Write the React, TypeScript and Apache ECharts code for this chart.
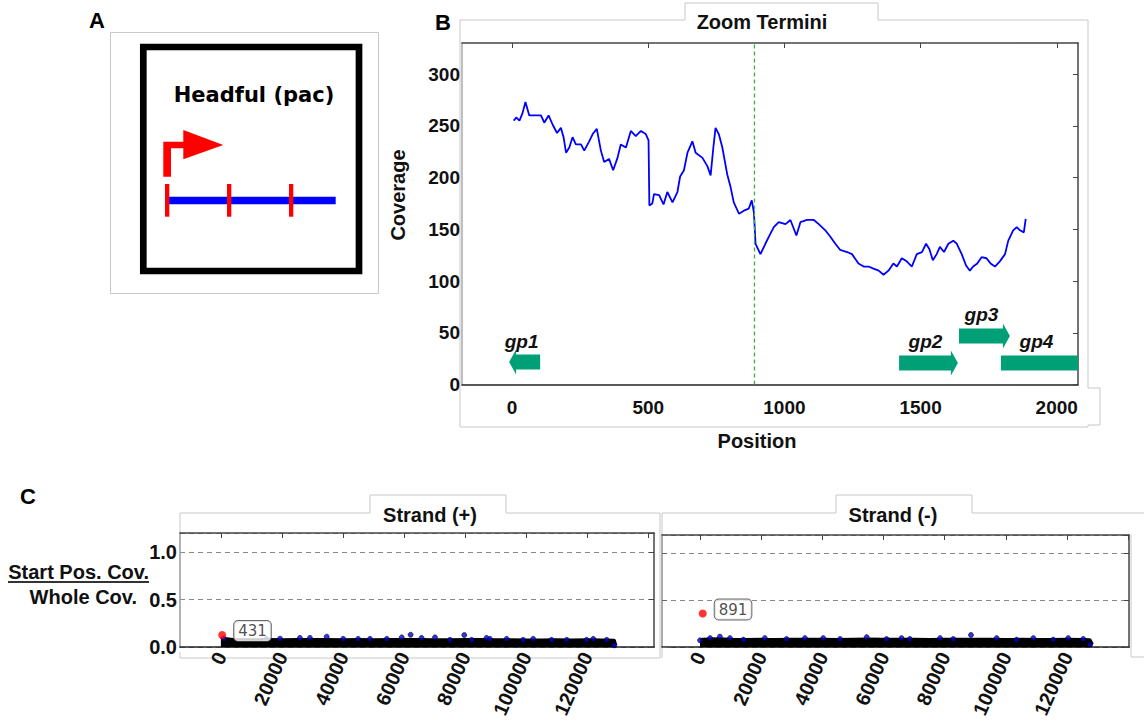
import React, { useEffect, useRef } from 'react';
import * as echarts from 'echarts';

// ---------- Panel B data: coverage near the termini ----------
const coveragePos = [6, 15, 27, 38, 49, 63, 82, 106, 118, 134, 149, 165, 179, 189, 198, 210, 222, 234, 253, 265, 283, 296, 311, 326, 338, 356, 371, 387, 399, 418, 436, 454, 473, 491, 501, 504, 515, 521, 540, 556, 570, 589, 607, 617, 631, 644, 662, 674, 699, 717, 729, 739, 747, 759, 772, 790, 802, 814, 833, 851, 869, 880, 888, 894, 912, 930, 949, 961, 979, 1004, 1022, 1044, 1059, 1083, 1108, 1126, 1150, 1168, 1187, 1205, 1230, 1248, 1272, 1291, 1309, 1327, 1346, 1364, 1382, 1400, 1413, 1431, 1449, 1468, 1486, 1505, 1520, 1532, 1545, 1559, 1571, 1586, 1602, 1620, 1633, 1651, 1667, 1681, 1693, 1708, 1724, 1742, 1757, 1773, 1791, 1810, 1822, 1840, 1853, 1865, 1879, 1886];
const coverageVal = [255, 258, 255, 262, 273, 260, 260, 260, 253, 260, 251, 243, 248, 239, 224, 229, 239, 232, 232, 226, 235, 242, 247, 226, 215, 218, 207, 219, 232, 229, 245, 240, 245, 242, 236, 173, 175, 184, 183, 174, 186, 176, 186, 201, 207, 224, 235, 224, 219, 211, 202, 229, 248, 242, 229, 203, 191, 176, 165, 168, 170, 178, 166, 136, 126, 136, 146, 152, 157, 155, 159, 144, 157, 159, 159, 155, 149, 143, 136, 130, 128, 126, 117, 114, 114, 112, 110, 106, 110, 117, 114, 122, 119, 114, 126, 128, 136, 131, 120, 126, 133, 128, 136, 139, 136, 126, 115, 110, 114, 117, 123, 122, 117, 114, 119, 126, 139, 149, 152, 149, 147, 160];
const terminusPos = 891;

const geneNames = ['gp1', 'gp2', 'gp3', 'gp4'];
const geneStart = [-11, 1421, 1641, 1795];
const geneEnd = [103, 1637, 1828, 2250];
const geneLevel = [21.7, 20.8, 46.9, 20.8];
const geneDir = [-1, 1, 1, 1];

const zoomXTicks = [0, 500, 1000, 1500, 2000];
const zoomYTicks = [0, 50, 100, 150, 200, 250, 300];

// ---------- Panel C data: start position coverage / whole coverage ----------
const plusBandPos = [0, 500, 2000, 4000, 8000, 12000, 16000, 20000, 25000, 30000, 35000, 40000, 45000, 50000, 55000, 60000, 65000, 70000, 75000, 80000, 85000, 90000, 95000, 100000, 105000, 110000, 115000, 120000, 125000, 129000, 129500];
const plusBandTop = [0.085, 0.095, 0.09, 0.082, 0.078, 0.078, 0.08, 0.078, 0.08, 0.082, 0.08, 0.078, 0.08, 0.078, 0.08, 0.082, 0.08, 0.078, 0.078, 0.082, 0.08, 0.078, 0.078, 0.076, 0.076, 0.078, 0.076, 0.078, 0.076, 0.074, 0.02];
const plusDotPos = [1000, 15000, 19400, 25900, 29200, 34700, 40100, 45000, 48900, 54400, 59300, 62200, 65800, 70200, 75100, 79800, 82200, 87100, 88200, 93700, 99100, 102400, 108400, 113400, 119900, 122100, 126500, 129000];
const plusDotVal = [0.09, 0.088, 0.09, 0.098, 0.098, 0.111, 0.088, 0.088, 0.088, 0.088, 0.104, 0.131, 0.098, 0.104, 0.078, 0.128, 0.078, 0.098, 0.088, 0.088, 0.078, 0.088, 0.078, 0.078, 0.078, 0.088, 0.078, 0.02];
const plusPeakPos = 431;
const plusPeakVal = 0.128;

const minusBandPos = [0, 1000, 3000, 6000, 10000, 15000, 20000, 25000, 30000, 35000, 40000, 45000, 50000, 55000, 60000, 65000, 70000, 75000, 80000, 85000, 90000, 95000, 100000, 105000, 110000, 115000, 120000, 125000, 127500, 128300];
const minusBandTop = [0.075, 0.085, 0.088, 0.09, 0.086, 0.082, 0.084, 0.082, 0.084, 0.086, 0.084, 0.082, 0.086, 0.088, 0.084, 0.086, 0.084, 0.082, 0.084, 0.084, 0.086, 0.084, 0.082, 0.084, 0.082, 0.082, 0.084, 0.082, 0.08, 0.03];
const minusDotPos = [0, 3300, 6500, 9800, 14200, 21200, 28300, 34300, 40300, 45800, 54500, 61000, 65900, 68600, 78500, 82800, 88600, 97000, 103500, 109000, 115500, 120400, 125300, 127500];
const minusDotVal = [0.074, 0.098, 0.114, 0.098, 0.081, 0.098, 0.088, 0.098, 0.098, 0.088, 0.108, 0.088, 0.098, 0.088, 0.098, 0.088, 0.131, 0.098, 0.081, 0.098, 0.081, 0.098, 0.088, 0.03];
const minusPeakPos = 891;
const minusPeakVal = 0.36;

const genomeTicks = [0, 20000, 40000, 60000, 80000, 100000, 120000];
const genomeTopTicks = [0, 20000, 40000, 60000, 80000, 100000, 120000, 140000];

const FONT = '"Liberation Sans", Arial, Helvetica, sans-serif';
const boldText = { fontFamily: FONT, fontWeight: 'bold' as const, fontSize: 19, color: '#111' };
const plain = (v: number) => String(v);

function App() {
  const ref = useRef<HTMLDivElement | null>(null);

  useEffect(() => {
    if (!ref.current) return;
    const chart = echarts.init(ref.current, undefined, { renderer: 'svg' });

    const pairs = (xs: number[], ys: number[]) => xs.map((x, i) => [x, ys[i]]);

    const geneData = geneNames.map((_, i) => [geneStart[i], geneEnd[i], geneLevel[i], geneDir[i]]);

    const frameColor = '#c8c8c8';
    const peakLabel = (text: string) => ({
      show: true,
      position: 'right' as const,
      distance: 8,
      offset: [0, -4],
      formatter: text,
      fontFamily: '"DejaVu Sans", sans-serif',
      fontSize: 15,
      color: '#222',
      backgroundColor: '#fff',
      borderColor: '#444',
      borderWidth: 1,
      borderRadius: 4,
      padding: [3, 4, 2, 4],
    });

    const line = (color: string) => ({ show: true, onZero: false, lineStyle: { color, width: 1.5 } });

    const option: any = {
      animation: false,
      backgroundColor: '#fff',
      grid: [
        { left: 462, top: 43, width: 616, height: 341.5 },
        { left: 180, top: 533, width: 474, height: 119 },
        { left: 662, top: 535, width: 467, height: 118 },
      ],
      xAxis: [
        {
          gridIndex: 0, type: 'value', min: -184, max: 2078, position: 'bottom',
          axisLine: line('#222'),
          axisTick: { show: false }, splitLine: { show: false },
          axisLabel: { ...boldText, customValues: zoomXTicks, margin: 13, formatter: plain },
        },
        {
          gridIndex: 0, type: 'value', min: -184, max: 2078, position: 'top',
          axisLine: line('#444'),
          axisTick: { show: true, inside: true, length: 5, customValues: zoomXTicks, lineStyle: { color: '#444' } },
          axisLabel: { show: false }, splitLine: { show: false },
        },
        {
          gridIndex: 1, type: 'value', min: -13400, max: 142000, position: 'bottom',
          axisLine: line('#222'),
          axisTick: { show: false }, splitLine: { show: false },
          axisLabel: { ...boldText, fontSize: 20, customValues: genomeTicks, rotate: 66, margin: 6, formatter: plain },
        },
        {
          gridIndex: 1, type: 'value', min: -13400, max: 142000, position: 'top',
          axisLine: line('#444'),
          axisTick: { show: true, inside: true, length: 5, customValues: genomeTopTicks, lineStyle: { color: '#444' } },
          axisLabel: { show: false }, splitLine: { show: false },
        },
        {
          gridIndex: 2, type: 'value', min: -12425, max: 140265, position: 'bottom',
          axisLine: line('#222'),
          axisTick: { show: false }, splitLine: { show: false },
          axisLabel: { ...boldText, fontSize: 20, customValues: genomeTicks, rotate: 66, margin: 6, formatter: plain },
        },
        {
          gridIndex: 2, type: 'value', min: -12425, max: 140265, position: 'top',
          axisLine: line('#444'),
          axisTick: { show: true, inside: true, length: 5, customValues: genomeTopTicks, lineStyle: { color: '#444' } },
          axisLabel: { show: false }, splitLine: { show: false },
        },
      ],
      yAxis: [
        {
          gridIndex: 0, type: 'value', min: 0, max: 330, position: 'left',
          axisLine: line('#aaa'),
          axisTick: { show: false }, splitLine: { show: false },
          axisLabel: { ...boldText, customValues: zoomYTicks, margin: 2, formatter: plain },
        },
        {
          gridIndex: 0, type: 'value', min: 0, max: 330, position: 'right',
          axisLine: line('#444'),
          axisTick: { show: true, inside: true, length: 5, customValues: zoomYTicks, lineStyle: { color: '#444' } },
          axisLabel: { show: false }, splitLine: { show: false },
        },
        {
          gridIndex: 1, type: 'value', min: 0, max: 1.2, interval: 0.5, position: 'left',
          axisLine: line('#999'),
          axisTick: { show: false },
          splitLine: { show: true, lineStyle: { color: '#888', type: [5, 4], width: 1 } },
          axisLabel: { ...boldText, fontSize: 20, margin: 3, formatter: (v: number) => (v > 1.1 ? '' : v.toFixed(1)) },
        },
        {
          gridIndex: 1, type: 'value', min: 0, max: 1.2, interval: 0.5, position: 'right',
          axisLine: line('#444'),
          axisTick: { show: true, inside: true, length: 5, lineStyle: { color: '#444' } },
          axisLabel: { show: false }, splitLine: { show: false },
        },
        {
          gridIndex: 2, type: 'value', min: 0, max: 1.2, interval: 0.5, position: 'left',
          axisLine: line('#999'),
          axisTick: { show: true, inside: true, length: 5, lineStyle: { color: '#666' } },
          splitLine: { show: true, lineStyle: { color: '#888', type: [5, 4], width: 1 } },
          axisLabel: { show: false },
        },
        {
          gridIndex: 2, type: 'value', min: 0, max: 1.2, interval: 0.5, position: 'right',
          axisLine: line('#444'),
          axisTick: { show: true, inside: true, length: 5, lineStyle: { color: '#444' } },
          axisLabel: { show: false }, splitLine: { show: false },
        },
      ],
      series: [
        {
          type: 'line', xAxisIndex: 0, yAxisIndex: 0, data: pairs(coveragePos, coverageVal),
          symbol: 'none', lineStyle: { color: '#0000ff', width: 1.8 }, z: 3,
          markLine: {
            silent: true, symbol: 'none', label: { show: false },
            lineStyle: { color: '#3cb043', type: [4, 3], width: 1.3 },
            data: [{ xAxis: terminusPos }],
          },
        },
        {
          type: 'custom', xAxisIndex: 0, yAxisIndex: 0, data: geneData, z: 4,
          renderItem: (params: any, api: any) => {
            const s = api.coord([api.value(0), api.value(2)]);
            const e = api.coord([api.value(1), api.value(2)]);
            const dir = api.value(3);
            const cs = params.coordSys;
            const cy = s[1];
            const bh = 7.5, hh = 12.5, hl = 7;
            const x0 = s[0], x1 = e[0];
            let pts: number[][];
            if (dir > 0) {
              pts = [[x0, cy - bh], [x1 - hl, cy - bh], [x1 - hl, cy - hh], [x1, cy], [x1 - hl, cy + hh], [x1 - hl, cy + bh], [x0, cy + bh]];
            } else {
              pts = [[x1, cy - bh], [x0 + hl, cy - bh], [x0 + hl, cy - hh], [x0, cy], [x0 + hl, cy + hh], [x0 + hl, cy + bh], [x1, cy + bh]];
            }
            const rect = { x: cs.x, y: cs.y, width: cs.width, height: cs.height };
            const clipped = echarts.graphic.clipPointsByRect(pts, rect);
            const vx0 = Math.max(x0, cs.x);
            const vx1 = Math.min(x1, cs.x + cs.width);
            const lx = (vx0 + vx1) / 2 - 3;
            return {
              type: 'group',
              children: [
                { type: 'polygon', shape: { points: clipped }, style: { fill: '#00a077' } },
                {
                  type: 'text',
                  style: {
                    text: geneNames[params.dataIndex], x: lx, y: cy - 21,
                    align: 'center', verticalAlign: 'middle',
                    font: `italic bold 19px ${FONT}`, fill: '#111',
                  },
                },
              ],
            };
          },
        },
        {
          type: 'line', xAxisIndex: 2, yAxisIndex: 2, data: pairs(plusBandPos, plusBandTop),
          symbol: 'none', lineStyle: { color: '#000', width: 3 }, areaStyle: { color: '#000', opacity: 1 }, z: 2,
        },
        {
          type: 'scatter', xAxisIndex: 2, yAxisIndex: 2, data: pairs(plusDotPos, plusDotVal),
          symbolSize: 5, itemStyle: { color: '#0000dd', borderColor: '#000', borderWidth: 0.7 }, z: 3,
        },
        {
          type: 'scatter', xAxisIndex: 2, yAxisIndex: 2, data: [[plusPeakPos, plusPeakVal]],
          symbolSize: 8, itemStyle: { color: '#ff0000' }, z: 4, label: peakLabel(String(plusPeakPos)),
        },
        {
          type: 'line', xAxisIndex: 4, yAxisIndex: 4, data: pairs(minusBandPos, minusBandTop),
          symbol: 'none', lineStyle: { color: '#000', width: 3 }, areaStyle: { color: '#000', opacity: 1 }, z: 2,
        },
        {
          type: 'scatter', xAxisIndex: 4, yAxisIndex: 4, data: pairs(minusDotPos, minusDotVal),
          symbolSize: 5, itemStyle: { color: '#0000dd', borderColor: '#000', borderWidth: 0.7 }, z: 3,
        },
        {
          type: 'scatter', xAxisIndex: 4, yAxisIndex: 4, data: [[minusPeakPos, minusPeakVal]],
          symbolSize: 8, itemStyle: { color: '#ff0000' }, z: 4, label: peakLabel(String(minusPeakPos)),
        },
      ],
      graphic: [
        // Panel letters
        { type: 'text', x: 97, y: 20, style: { text: 'A', font: `bold 22px ${FONT}`, fill: '#000', align: 'center', verticalAlign: 'middle' } },
        { type: 'text', x: 443, y: 22, style: { text: 'B', font: `bold 22px ${FONT}`, fill: '#000', align: 'center', verticalAlign: 'middle' } },
        { type: 'text', x: 28, y: 496, style: { text: 'C', font: `bold 22px ${FONT}`, fill: '#000', align: 'center', verticalAlign: 'middle' } },

        // Panel A schematic
        { type: 'rect', shape: { x: 110.5, y: 32.5, width: 268, height: 261 }, style: { fill: 'none', stroke: '#c8c8c8', lineWidth: 1 } },
        { type: 'rect', shape: { x: 143.3, y: 47, width: 215.7, height: 224 }, style: { fill: '#fff', stroke: '#000', lineWidth: 6.7 } },
        { type: 'text', x: 254, y: 95, style: { text: 'Headful (pac)', font: 'bold 21px "DejaVu Sans", sans-serif', fill: '#000', align: 'center', verticalAlign: 'middle' } },
        {
          type: 'polygon',
          shape: { points: [[163.3, 176.7], [163.3, 141.7], [183.3, 141.7], [183.3, 130], [223.3, 145], [183.3, 159.3], [183.3, 148.3], [171, 148.3], [171, 176.7]] },
          style: { fill: '#ff0000' },
        },
        { type: 'line', shape: { x1: 168.3, y1: 200.5, x2: 335.7, y2: 200.5 }, style: { stroke: '#0000ff', lineWidth: 7.6 } },
        { type: 'rect', shape: { x: 165, y: 184, width: 4.3, height: 32.7 }, style: { fill: '#ff0000' } },
        { type: 'rect', shape: { x: 227, y: 184, width: 4.3, height: 32.7 }, style: { fill: '#ff0000' } },
        { type: 'rect', shape: { x: 289, y: 184, width: 4.3, height: 32.7 }, style: { fill: '#ff0000' } },

        // Panel B frame and labels
        {
          type: 'polyline',
          shape: { points: [[460, 427], [460, 20], [685, 20], [685, 3], [878, 3], [878, 20], [1088, 20], [1088, 388], [1100, 388], [1100, 425], [1088, 425], [1088, 427], [460, 427]] },
          style: { fill: 'none', stroke: frameColor, lineWidth: 1 }, z: -1,
        },
        { type: 'text', x: 762, y: 22, style: { text: 'Zoom Termini', font: `bold 20px ${FONT}`, fill: '#111', align: 'center', verticalAlign: 'middle' } },
        { type: 'text', x: 398, y: 195, rotation: Math.PI / 2, style: { text: 'Coverage', font: `bold 20px ${FONT}`, fill: '#111', align: 'center', verticalAlign: 'middle' } },
        { type: 'text', x: 757, y: 441, style: { text: 'Position', font: `bold 20px ${FONT}`, fill: '#111', align: 'center', verticalAlign: 'middle' } },

        // Panel C frames and labels
        {
          type: 'polyline',
          shape: { points: [[180, 533], [180, 513], [370, 513], [370, 495], [506, 495], [506, 513], [660, 513], [660, 658], [180, 658], [180, 652]] },
          style: { fill: 'none', stroke: frameColor, lineWidth: 1 }, z: -1,
        },
        {
          type: 'polyline',
          shape: { points: [[662, 658], [662, 513], [836, 513], [836, 495], [972, 495], [972, 513], [1144, 513]] },
          style: { fill: 'none', stroke: frameColor, lineWidth: 1 }, z: -1,
        },
        {
          type: 'polyline',
          shape: { points: [[1131, 535], [1131, 657], [1144, 657]] },
          style: { fill: 'none', stroke: frameColor, lineWidth: 1 }, z: -1,
        },
        { type: 'text', x: 430, y: 515, style: { text: 'Strand (+)', font: `bold 20px ${FONT}`, fill: '#111', align: 'center', verticalAlign: 'middle' } },
        { type: 'text', x: 893, y: 515, style: { text: 'Strand (-)', font: `bold 20px ${FONT}`, fill: '#111', align: 'center', verticalAlign: 'middle' } },
        { type: 'text', x: 149, y: 572, style: { text: 'Start Pos. Cov.', font: `bold 20px ${FONT}`, fill: '#111', align: 'right', verticalAlign: 'middle' } },
        { type: 'line', shape: { x1: 8, y1: 582, x2: 149, y2: 582 }, style: { stroke: '#333', lineWidth: 2 } },
        { type: 'text', x: 137, y: 597, style: { text: 'Whole Cov.', font: `bold 20px ${FONT}`, fill: '#111', align: 'right', verticalAlign: 'middle' } },
      ],
    };

    chart.setOption(option);
    return () => {
      chart.dispose();
    };
  }, []);

  return (
    <div
      ref={ref}
      style={{ position: 'absolute', left: 0, top: 0, width: 1144, height: 721, background: '#fff' }}
    />
  );
}

export default App;
